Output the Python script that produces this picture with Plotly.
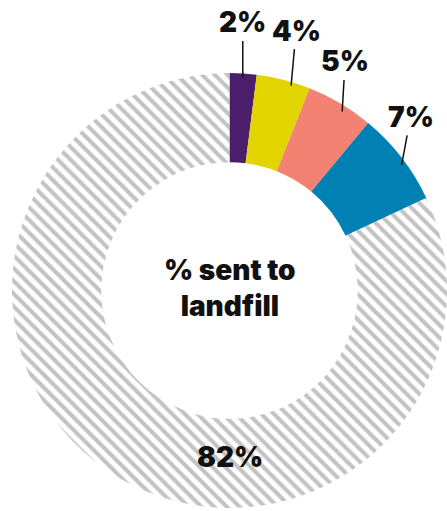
import math
import plotly.graph_objects as go

labels = ["Group A", "Group B", "Group C", "Group D", "Landfill"]
values = [2, 4, 5, 7, 82]
value_labels = ["2%", "4%", "5%", "7%", "82%"]
colors = ["#4a1e6a", "#e1d400", "#f48272", "#0080b3", "#ffffff"]
center_title = "% sent to<br>landfill"

W, H = 447, 511
# pie domain in pixels (from left / top)
px0, px1 = 12, 447
py_top, py_bot = 73, 508
hole = 0.59

FONT = dict(family="Inter", size=28, color="#111111", weight=900)

fig = go.Figure(go.Pie(
    labels=labels,
    values=values,
    sort=False,
    direction="clockwise",
    rotation=0,
    hole=hole,
    textinfo="none",
    hoverinfo="label+percent",
    marker=dict(
        colors=colors,
        line=dict(width=0),
        pattern=dict(
            shape=["", "", "", "", "\\"],
            fgcolor="#c3c3c3",
            bgcolor="#ffffff",
            size=9,
            solidity=0.45,
        ),
    ),
    domain=dict(x=[px0 / W, px1 / W], y=[1 - py_bot / H, 1 - py_top / H]),
    showlegend=False,
))

# geometry for label placement
cx = (px0 + px1) / 2
cy = (py_top + py_bot) / 2
R = min(px1 - px0, py_bot - py_top) / 2
total = sum(values)

# leader-line styling (pixel nudges)
tip_dx = [0, 9, 5, 5]
tip_dy = [-2, 0, 3, 4]
text_dx = [0, 5, 3, 9]
text_dy = [-55, -55, -50, -48]

annotations = []
cum = 0
for i, (v, t) in enumerate(zip(values, value_labels)):
    mid = (cum + v / 2) / total * 2 * math.pi
    cum += v
    if t == "82%":
        continue
    rr = R - 6
    x = cx + rr * math.sin(mid)
    y = cy - rr * math.cos(mid)
    annotations.append(dict(
        x=x / W, y=1 - y / H, xref="paper", yref="paper",
        xshift=tip_dx[i], yshift=-tip_dy[i],
        text=t, showarrow=True, arrowhead=0, arrowwidth=1.5,
        arrowcolor="#111111", ax=text_dx[i], ay=text_dy[i], standoff=0,
        startstandoff=0, font=FONT,
    ))

# bottom label for landfill slice
rlab = R * 0.765
annotations.append(dict(
    x=cx / W, y=1 - (cy + rlab) / H, xref="paper", yref="paper",
    xanchor="center", yanchor="middle",
    text=value_labels[-1], showarrow=False, font=FONT,
))
annotations.append(dict(
    x=cx / W, y=1 - (cy - 3) / H, xref="paper", yref="paper",
    xanchor="center", yanchor="middle",
    text=center_title, showarrow=False, font=FONT,
))

fig.update_layout(
    width=W, height=H,
    margin=dict(l=0, r=0, t=0, b=0),
    paper_bgcolor="white",
    plot_bgcolor="white",
    annotations=annotations,
)

fig.write_html("out.html")
